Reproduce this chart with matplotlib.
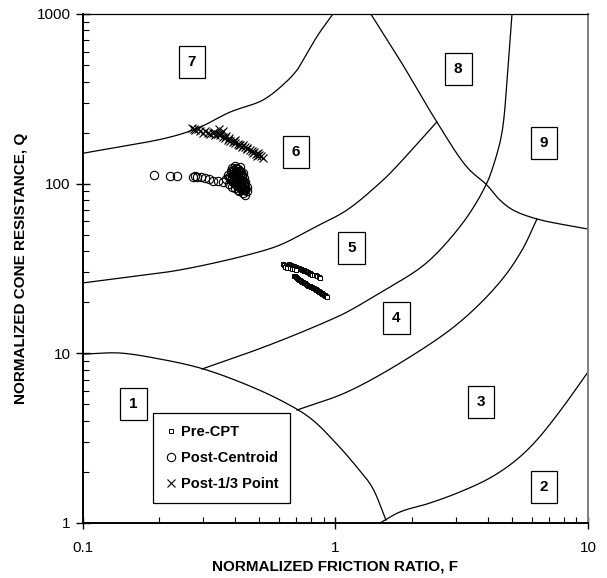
import numpy as np
import matplotlib
matplotlib.use('Agg')
import matplotlib.pyplot as plt
from matplotlib.ticker import LogLocator, NullFormatter, FixedFormatter, FixedLocator

plt.rcParams['font.family'] = ['Liberation Sans', 'DejaVu Sans']

# zone boundaries (F, Q)
b7_F = [0.1, 0.221, 0.29, 0.382, 0.516, 0.631, 0.704, 0.744, 0.852, 0.977]
b7_Q = [151, 188, 215, 264, 311, 392, 467, 535, 751, 1000]

b6_F = [0.1, 0.153, 0.242, 0.446, 0.603, 0.815, 1.11, 1.50, 1.69, 2.52]
b6_Q = [26, 28.2, 31, 37.9, 43.5, 54.7, 69.9, 101, 120, 231]

b5_F = [0.296, 0.446, 0.643, 0.951, 1.11, 1.50, 2.16, 2.59, 3.32, 3.94, 4.20, 4.56, 4.82, 5.0]
b5_Q = [8.08, 10.0, 12.3, 15.7, 17.5, 22.7, 31.8, 40.6, 63.6, 98, 125, 199, 486, 1000]

b4_F = [0.704, 1.11, 1.97, 3.11, 4.48, 5.48, 6.28]
b4_Q = [4.63, 5.91, 9.51, 15.3, 26.3, 40.6, 61.9]

b1_F = [0.1, 0.140, 0.202, 0.291, 0.419, 0.603, 0.793, 0.995, 1.195, 1.395, 1.585]
b1_Q = [9.9, 10.04, 9.25, 8.19, 6.77, 5.31, 4.16, 3.00, 2.20, 1.63, 1.04]

b2_F = [1.50, 1.80, 2.37, 3.11, 4.09, 5.14, 6.17, 7.75, 10.0]
b2_Q = [1.0, 1.161, 1.312, 1.523, 1.842, 2.32, 3.00, 4.57, 7.76]

b8_F = [1.38, 1.80, 2.52, 3.32, 3.98, 4.48, 5.05, 6.28, 10.0]
b8_Q = [1000, 535, 231, 125, 98, 80, 69.9, 61.9, 54]

# zone labels
zone_names = ['1', '2', '3', '4', '5', '6', '7', '8', '9']
zone_F = [0.158, 6.69, 3.77, 1.74, 1.16, 0.698, 0.270, 3.06, 6.69]
zone_Q = [5.03, 1.63, 5.16, 16.1, 41.7, 153, 521, 473, 173]

# Pre-CPT
pre_F = [0.62, 0.628, 0.635, 0.643, 0.65, 0.655, 0.662, 0.667, 0.675, 0.68, 0.687, 0.691,
         0.698, 0.705, 0.711, 0.717, 0.722, 0.727, 0.732, 0.737, 0.742, 0.747, 0.752,
         0.757, 0.762, 0.768, 0.773, 0.778, 0.784, 0.79, 0.795, 0.80, 0.81, 0.822, 0.834,
         0.845, 0.857, 0.868,
         0.63, 0.645, 0.66, 0.672, 0.685, 0.70,
         0.685, 0.69, 0.695, 0.70, 0.704, 0.708, 0.713, 0.718, 0.723, 0.728, 0.733, 0.738,
         0.744, 0.749, 0.754, 0.759, 0.764, 0.769, 0.774, 0.78, 0.785, 0.79, 0.796, 0.80,
         0.807, 0.812, 0.818, 0.824, 0.829, 0.835, 0.841, 0.847, 0.853, 0.858, 0.864, 0.87,
         0.876, 0.882, 0.888, 0.894, 0.90, 0.906, 0.912, 0.918, 0.925]
pre_Q = [33.6, 33.2, 33.0, 32.7, 33.2, 33.4, 33.0, 33.1, 32.8, 32.5, 32.6, 32.3,
         32.2, 32.0, 31.6, 31.8, 31.5, 31.3, 31.2, 31.0, 30.9, 30.8, 30.5,
         30.6, 30.4, 30.3, 30.0, 30.1, 29.8, 29.6, 29.5, 29.3, 29.1, 28.9, 28.8,
         28.6, 28.1, 27.8,
         32.2, 32.0, 31.7, 31.6, 31.2, 30.9,
         28.6, 28.4, 28.2, 28.0, 27.8, 27.6, 27.4, 27.2, 27.0, 26.8, 26.6, 26.5,
         26.3, 26.1, 25.9, 25.8, 25.6, 25.4, 25.2, 25.1, 24.9, 24.9, 24.8, 24.7,
         24.6, 24.4, 24.2, 24.1, 23.9, 23.8, 23.6, 23.5, 23.3, 23.2, 23.0, 22.9,
         22.7, 22.6, 22.4, 22.3, 22.1, 22.0, 21.8, 21.7, 21.5]

# Post-Centroid
cen_F = [0.191, 0.221, 0.236, 0.273, 0.278, 0.283, 0.293, 0.304, 0.315, 0.327, 0.343, 0.358,
         0.375, 0.385, 0.39, 0.40, 0.41, 0.42, 0.395, 0.405, 0.415, 0.425, 0.43, 0.42,
         0.41, 0.40, 0.385, 0.38, 0.39, 0.40, 0.415, 0.425, 0.435, 0.44, 0.43, 0.415,
         0.445, 0.435, 0.37, 0.38, 0.42, 0.44, 0.395, 0.405, 0.41, 0.39, 0.42, 0.43,
         0.40, 0.41, 0.425, 0.435, 0.445, 0.44, 0.435, 0.398, 0.388, 0.412,
         0.392, 0.402, 0.412, 0.422, 0.397, 0.407, 0.417, 0.427, 0.403, 0.413, 0.423,
         0.433, 0.418, 0.428, 0.438, 0.408, 0.383, 0.393, 0.403, 0.413, 0.423, 0.432]
cen_Q = [112, 111, 111, 110, 111, 110, 109, 108, 106, 104, 103, 102,
         112, 118, 124, 127, 122, 118, 110, 114, 108, 112, 104, 100,
         104, 100, 105, 100, 96, 94, 96, 92, 98, 92, 88, 90,
         96, 108, 106, 110, 125, 102, 120, 118, 112, 114, 106, 116,
         106, 98, 96, 94, 90, 86, 100, 102, 108, 92,
         121, 123, 119, 115, 116, 111, 113, 109, 107, 103, 105,
         101, 99, 97, 95, 99, 108, 102, 104, 100, 94, 92]

# Post-1/3 Point
third_F = [0.270, 0.274, 0.278, 0.285, 0.291, 0.298, 0.305, 0.312, 0.318, 0.326, 0.334, 0.342,
           0.349, 0.357, 0.365, 0.374, 0.382, 0.391, 0.40, 0.41, 0.419, 0.428, 0.438, 0.448,
           0.458, 0.467, 0.476, 0.485, 0.493, 0.50, 0.508, 0.516, 0.36, 0.345, 0.37, 0.40,
           0.43, 0.33, 0.352, 0.38, 0.395, 0.415, 0.445, 0.47, 0.49]
third_Q = [213, 211, 208, 210, 204, 200, 203, 198, 196, 199, 193, 196,
           194, 188, 186, 182, 178, 176, 173, 171, 169, 165, 164, 160,
           158, 155, 154, 150, 151, 147, 146, 142, 205, 210, 192, 180,
           170, 202, 200, 185, 178, 168, 162, 152, 146]


def smooth(fs, qs, n=30):
    # smoothed line through the read points (centripetal Catmull-Rom, log space)
    p = np.column_stack([np.log10(fs) * 252.5, np.log10(qs) * 169.7])
    p = np.vstack([2 * p[0] - p[1], p, 2 * p[-1] - p[-2]])
    out = []
    for i in range(1, len(p) - 2):
        p0, p1, p2, p3 = p[i - 1], p[i], p[i + 1], p[i + 2]
        t0 = 0.0
        t1 = t0 + np.linalg.norm(p1 - p0) ** 0.5
        t2 = t1 + np.linalg.norm(p2 - p1) ** 0.5
        t3 = t2 + np.linalg.norm(p3 - p2) ** 0.5
        t = np.linspace(t1, t2, n, endpoint=False)[:, None]
        a1 = (t1 - t) / (t1 - t0) * p0 + (t - t0) / (t1 - t0) * p1
        a2 = (t2 - t) / (t2 - t1) * p1 + (t - t1) / (t2 - t1) * p2
        a3 = (t3 - t) / (t3 - t2) * p2 + (t - t2) / (t3 - t2) * p3
        b1 = (t2 - t) / (t2 - t0) * a1 + (t - t0) / (t2 - t0) * a2
        b2 = (t3 - t) / (t3 - t1) * a2 + (t - t1) / (t3 - t1) * a3
        out.append((t2 - t) / (t2 - t1) * b1 + (t - t1) / (t2 - t1) * b2)
    out.append(p[-2][None, :])
    out = np.vstack(out)
    return 10 ** (out[:, 0] / 252.5), 10 ** (out[:, 1] / 169.7)


fig = plt.figure(figsize=(6.07, 5.78), dpi=100)
ax = fig.add_axes([0.1367, 0.0952, 0.8320, 0.8806])

for bf, bq in [(b7_F, b7_Q), (b6_F, b6_Q), (b5_F, b5_Q), (b4_F, b4_Q),
               (b1_F, b1_Q), (b2_F, b2_Q), (b8_F, b8_Q)]:
    sf, sq = smooth(bf, bq)
    ax.plot(sf, sq, color='black', lw=0.9)

ax.plot(pre_F, pre_Q, ls='none', marker='s', ms=3.2, mfc='white', mec='black', mew=0.7,
        label='Pre-CPT')
ax.plot(cen_F, cen_Q, ls='none', marker='o', ms=6, mfc='none', mec='black', mew=0.8,
        label='Post-Centroid')
ax.plot(third_F, third_Q, ls='none', marker='x', ms=5.5, mec='black', mew=0.8,
        label='Post-1/3 Point')

for name, f, q in zip(zone_names, zone_F, zone_Q):
    ax.text(f, q, name, fontsize=11, fontweight='bold', ha='center', va='center',
            bbox=dict(boxstyle='square,pad=0.6', fc='white', ec='black', lw=0.9))

ax.set_xscale('log')
ax.set_yscale('log')
ax.set_xlim(0.1, 10)
ax.set_ylim(1, 1000)

ax.xaxis.set_major_locator(FixedLocator([0.1, 1, 10]))
ax.xaxis.set_major_formatter(FixedFormatter(['0.1', '1', '10']))
ax.yaxis.set_major_locator(FixedLocator([1, 10, 100, 1000]))
ax.yaxis.set_major_formatter(FixedFormatter(['1', '10', '100', '1000']))
ax.xaxis.set_minor_locator(LogLocator(base=10, subs=np.arange(2, 10)))
ax.yaxis.set_minor_locator(LogLocator(base=10, subs=np.arange(2, 10)))
ax.xaxis.set_minor_formatter(NullFormatter())
ax.yaxis.set_minor_formatter(NullFormatter())

ax.tick_params(axis='x', which='major', direction='inout', length=8, width=1, pad=9, labelsize=11)
ax.tick_params(axis='y', which='major', direction='inout', length=10, width=1, pad=4, labelsize=11)
ax.tick_params(which='minor', direction='in', length=4, width=0.8)

for s in ['left', 'bottom']:
    ax.spines[s].set_linewidth(1.4)
ax.spines['top'].set_linewidth(0.9)
ax.spines['right'].set_linewidth(1.4)
ax.spines['right'].set_color('#808080')

ax.set_xlabel('NORMALIZED FRICTION RATIO, F', fontsize=11, fontweight='bold', labelpad=3)
ax.set_ylabel('NORMALIZED CONE RESISTANCE, Q', fontsize=11, fontweight='bold', labelpad=6)

leg = ax.legend(loc='upper left', bbox_to_anchor=(0.139, 0.216), borderaxespad=0,
                frameon=True, fancybox=False, edgecolor='black', framealpha=1,
                prop={'weight': 'bold', 'size': 10.5}, handlelength=0.8,
                handletextpad=0.3, labelspacing=0.85, borderpad=0.8)
leg.get_frame().set_linewidth(0.9)

fig.savefig('out.png', dpi=100)
